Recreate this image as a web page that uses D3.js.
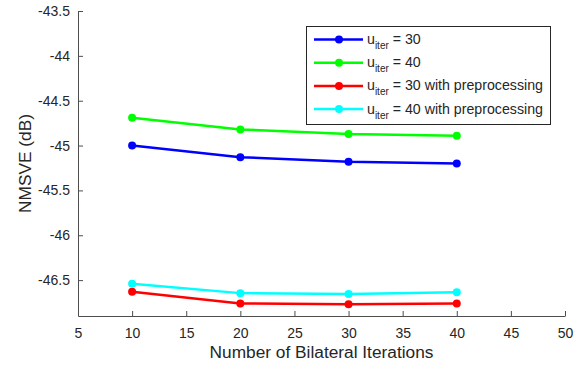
<!DOCTYPE html>
<html>
<head>
<meta charset="utf-8">
<script src="https://cdn.jsdelivr.net/npm/d3@7.9.0/dist/d3.min.js"></script>
<style>
  body { margin: 0; background: #fff; }
  text { font-family: "Liberation Sans", Arial, sans-serif; fill: #262626; }
</style>
</head>
<body>
<svg id="chart" width="580" height="365"></svg>
<script>
const iterations = [10, 20, 30, 40];
const uiter30 = [-45.00, -45.13, -45.18, -45.20];
const uiter40 = [-44.69, -44.82, -44.87, -44.89];
const uiter30Pre = [-46.63, -46.76, -46.77, -46.76];
const uiter40Pre = [-46.54, -46.645, -46.655, -46.635];
const xTicks = [5, 10, 15, 20, 25, 30, 35, 40, 45, 50];
const yTicks = [-43.5, -44, -44.5, -45, -45.5, -46, -46.5];

const series = [
  { num: "30", suffix: "", values: uiter30, color: "#0000ff" },
  { num: "40", suffix: "", values: uiter40, color: "#00ff00" },
  { num: "30", suffix: " with preprocessing", values: uiter30Pre, color: "#ff0000" },
  { num: "40", suffix: " with preprocessing", values: uiter40Pre, color: "#00ffff" }
];

const svg = d3.select("#chart");
const margin = { left: 78, right: 15, top: 11, bottom: 49 };
const W = 580, H = 365;

const x = d3.scaleLinear().domain([5, 50]).range([margin.left, W - margin.right]);
const y = d3.scaleLinear().domain([-46.9, -43.5]).range([H - margin.bottom, margin.top]);

const axisColor = "#4d4d4d";

const xAxis = svg.append("g")
  .attr("transform", `translate(0,${H - margin.bottom})`)
  .call(d3.axisBottom(x).tickValues(xTicks).tickFormat(d => String(d))
    .tickSizeInner(-5).tickSizeOuter(0).tickPadding(12));
const yAxis = svg.append("g")
  .attr("transform", `translate(${margin.left},0)`)
  .call(d3.axisLeft(y).tickValues(yTicks).tickFormat(d => String(d))
    .tickSizeInner(-5).tickSizeOuter(0).tickPadding(8));

[xAxis, yAxis].forEach(a => {
  a.select(".domain").attr("stroke", axisColor).attr("stroke-width", 1);
  a.selectAll(".tick line").attr("stroke", axisColor);
  a.selectAll(".tick text").attr("font-size", 14).attr("fill", "#262626")
    .style("font-family", "'Liberation Sans', Arial, sans-serif");
});

svg.append("text")
  .attr("x", (x(5) + x(50)) / 2)
  .attr("y", 358)
  .attr("text-anchor", "middle")
  .attr("font-size", 17.3)
  .text("Number of Bilateral Iterations");

svg.append("text")
  .attr("transform", `translate(31,${(y(-43.5) + y(-46.9)) / 2}) rotate(-90)`)
  .attr("text-anchor", "middle")
  .attr("font-size", 17.3)
  .text("NMSVE (dB)");

const line = d3.line().x((d, i) => x(iterations[i])).y(d => y(d));

series.forEach(s => {
  svg.append("path")
    .attr("d", line(s.values))
    .attr("fill", "none")
    .attr("stroke", s.color)
    .attr("stroke-width", 2.5);
  svg.selectAll(null)
    .data(s.values)
    .enter()
    .append("circle")
    .attr("cx", (d, i) => x(iterations[i]))
    .attr("cy", d => y(d))
    .attr("r", 4)
    .attr("fill", s.color);
});

// legend
const legend = svg.append("g");
legend.append("rect")
  .attr("x", 306.5).attr("y", 26.5)
  .attr("width", 244).attr("height", 98)
  .attr("fill", "#fff")
  .attr("stroke", "#262626")
  .attr("stroke-width", 1);

series.forEach((s, i) => {
  const ly = 39.5 + i * 23.2;
  legend.append("line")
    .attr("x1", 314).attr("x2", 363)
    .attr("y1", ly).attr("y2", ly)
    .attr("stroke", s.color).attr("stroke-width", 2.5);
  legend.append("circle")
    .attr("cx", 339).attr("cy", ly).attr("r", 4).attr("fill", s.color);
  const t = legend.append("text")
    .attr("x", 367).attr("y", ly + 4.5)
    .attr("font-size", 14.2);
  t.append("tspan").text("u");
  t.append("tspan").attr("font-size", 10).attr("dy", 5).text("iter");
  t.append("tspan").attr("dy", -5).text(` = ${s.num}${s.suffix}`);
});
</script>
</body>
</html>
